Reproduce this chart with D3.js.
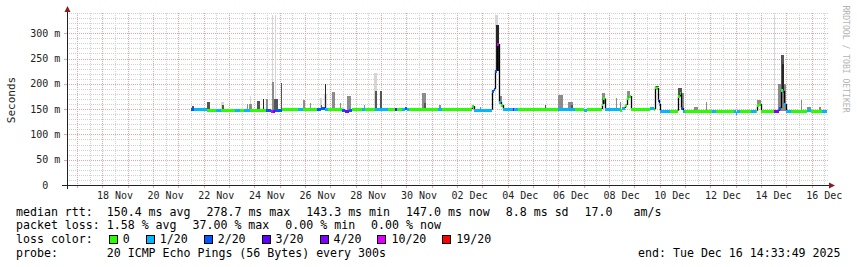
<!DOCTYPE html>
<html>
<head>
<meta charset="utf-8">
<script src="https://cdn.jsdelivr.net/npm/d3@7"></script>
<style>
  body { margin: 0; background: #fff; }
  svg text { font-family: "DejaVu Sans Mono", monospace; white-space: pre; }
</style>
</head>
<body>
<div id="chart"></div>
<script>
// time range of the graph (30 days)
const startTime = "2025-11-16T14:33:49Z";
const endTime = "2025-12-16T14:33:49Z";

// y axis
const yTickValues = [0, 50, 100, 150, 200, 250, 300];
const yTickLabels = ["0  ", "50 m", "100 m", "150 m", "200 m", "250 m", "300 m"];
const yMax = 340;

// x axis labels (every second day)
const xLabelDays = ["11-18", "11-20", "11-22", "11-24", "11-26", "11-28", "11-30",
  "12-02", "12-04", "12-06", "12-08", "12-10", "12-12", "12-14", "12-16"];

// loss colours
const lossColors = ["#26ff00", "#00b8ff", "#0059ff", "#5e00ff", "#7e00ff", "#dd00ff", "#ff0000"];
const lossLabels = ["0", "1/20", "2/20", "3/20", "4/20", "10/20", "19/20"];

// median rtt (ms), step values: each holds until the next time
const medianTimes = [
  "11-21 12", "11-21 15", "11-22 03", "11-22 12", "11-22 16", "11-23 06", "11-23 10", "11-23 14",
  "11-23 20", "11-24 11", "11-24 16", "11-24 18", "11-24 20", "11-25 02", "11-25 17", "11-25 22",
  "11-26 11", "11-26 15", "11-26 19", "11-26 22", "11-27 11", "11-27 14", "11-27 18", "11-27 21",
  "11-28 06", "11-28 09", "11-28 18", "11-29 07", "11-29 13", "11-29 15", "11-29 20", "11-29 23",
  "11-30 01", "11-30 03", "12-01 06", "12-01 10", "12-02 14", "12-02 16", "12-03 09", "12-03 11",
  "12-03 12", "12-03 14", "12-03 16", "12-03 18", "12-03 20", "12-04 05", "12-04 06", "12-04 10",
  "12-06 00", "12-06 16", "12-07 00", "12-07 03", "12-07 17", "12-07 18", "12-07 20", "12-08 10",
  "12-08 12", "12-08 15", "12-08 17", "12-08 19", "12-08 21", "12-09 15", "12-09 19", "12-09 20",
  "12-09 21", "12-09 22", "12-09 23", "12-10 00", "12-10 10", "12-10 17", "12-10 19", "12-10 20",
  "12-10 22", "12-11 00", "12-12 02", "12-12 05", "12-12 22", "12-13 00", "12-13 01", "12-13 04",
  "12-13 15", "12-13 19", "12-13 20", "12-13 22", "12-14 00", "12-14 12", "12-14 17", "12-14 19",
  "12-14 21", "12-14 22", "12-15 00", "12-15 04", "12-15 20", "12-15 23", "12-16 10"];
const medianValues = [
  150, 150, 148, 149, 148, 149, 148, 149,
  149, 148, 147, 147, 148, 150, 150, 150,
  150, 152, 150, 150, 148, 147, 148, 150,
  150, 150, 150, 150, 150, 150, 150, 152,
  150, 150, 150, 150, 156, 149, 186, 190,
  226, 278.7, 164, 158, 150, 150, 150, 150,
  150, 150, 149, 150, 160, 171, 150, 149,
  152, 158, 172, 176, 150, 153, 150, 193,
  192, 168, 160, 147, 147, 175, 181, 152,
  147, 147, 147, 147, 147, 143.3, 147, 147,
  147, 147, 158, 160, 147, 147, 152, 188,
  186, 160, 147, 147, 148, 147, 147];
const medianLoss = [
  2, 1, 0, 1, 0, 1, 0, 1,
  0, 2, 5, 4, 2, 0, 1, 0,
  2, 2, 1, 0, 2, 4, 2, 0,
  1, 0, 1, 0, 3, 0, 1, 2,
  1, 0, 1, 0, 0, 1, 2, 2,
  2, 5, 1, 0, 1, 4, 1, 0,
  1, 0, 1, 0, 0, 0, 1, 0,
  1, 0, 0, 0, 0, 1, 0, 0,
  0, 2, 1, 1, 0, 0, 0, 2,
  1, 0, 1, 0, 1, 1, 1, 0,
  1, 0, 0, 0, 0, 4, 2, 0,
  2, 1, 1, 0, 1, 0, 1];

// smoke (spread of the pings): start, end, top (ms), shade 0 light .. 3 dark
const smokeStart = [
  "11-21 13", "11-21 16", "11-22 03", "11-22 16", "11-22 17", "11-23 17", "11-23 19", "11-23 20",
  "11-24 03", "11-24 08", "11-24 11", "11-24 17", "11-24 17", "11-24 20", "11-24 19", "11-25 01",
  "11-25 22", "11-26 05", "11-26 14", "11-26 15", "11-26 18", "11-26 19", "11-27 02", "11-27 09",
  "11-27 11", "11-27 16", "11-28 08", "11-28 17", "11-28 18", "11-28 23", "11-30 15", "11-30 17",
  "12-01 07", "12-02 22", "12-03 12", "12-03 13", "12-03 16", "12-05 11", "12-06 00", "12-06 09",
  "12-06 12", "12-07 17", "12-08 07", "12-08 10", "12-08 17", "12-09 15", "12-09 20", "12-10 17",
  "12-10 20", "12-11 09", "12-11 20", "12-13 20", "12-14 12", "12-14 16", "12-14 19", "12-14 20",
  "12-15 14", "12-15 20", "12-16 07"];
const smokeEnd = [
  "11-21 15", "11-21 18", "11-22 06", "11-22 19", "11-22 19", "11-23 18", "11-23 22", "11-23 21",
  "11-24 05", "11-24 09", "11-24 13", "11-24 18", "11-24 19", "11-24 21", "11-24 22", "11-25 02",
  "11-26 00", "11-26 06", "11-26 16", "11-26 16", "11-26 21", "11-26 20", "11-27 04", "11-27 10",
  "11-27 13", "11-27 20", "11-28 09", "11-28 20", "11-28 20", "11-29 01", "11-30 19", "11-30 19",
  "12-01 09", "12-02 23", "12-03 15", "12-03 16", "12-03 19", "12-05 12", "12-06 04", "12-06 14",
  "12-06 14", "12-07 20", "12-08 08", "12-08 11", "12-08 20", "12-09 19", "12-09 23", "12-10 21",
  "12-10 23", "12-11 12", "12-11 21", "12-14 00", "12-14 13", "12-15 00", "12-14 22", "12-14 22",
  "12-15 15", "12-15 23", "12-16 09"];
const smokeTop = [
  156, 153, 165, 165, 158, 160, 160, 175,
  167, 170, 170, 336, 204, 336, 170, 201,
  168, 162, 172, 158, 180, 200, 184, 163,
  155, 175, 158, 221, 186, 186, 181, 162,
  158, 154, 336, 316, 175, 158, 178, 165,
  158, 181, 172, 165, 186, 155, 196, 192,
  181, 155, 165, 169, 336, 200, 257, 240,
  168, 155, 155];
const smokeShade = [
  2, 1, 2, 0, 2, 1, 1, 0,
  2, 3, 1, 0, 1, 0, 2, 2,
  1, 1, 0, 2, 0, 3, 1, 1,
  0, 1, 1, 0, 2, 2, 1, 2,
  1, 1, 0, 3, 1, 2, 1, 1,
  2, 1, 1, 1, 1, 2, 2, 2,
  1, 1, 1, 1, 0, 1, 2, 3,
  1, 1, 1];
const shadeColors = ["#d6d6d6", "#8c8c8c", "#555555", "#262626"];

// legend numbers
const rttStats = [150.4, 278.7, 143.3, 147.0, 8.8, 17.0];
const lossStats = [1.58, 37.00, 0.00, 0.00];
const probeText = "20 ICMP Echo Pings (56 Bytes) every 300s";
const endText = "end: Tue Dec 16 14:33:49 2025";

// ---------------------------------------------------------------
const width = 857, height = 267;
const plot = { left: 67, right: 827, top: 13, bottom: 185 };

const parse = d3.utcParse("%Y-%m-%d %H");
const toDate = (s) => parse("2025-" + s);

const svg = d3.select("#chart").append("svg")
  .attr("width", width).attr("height", height)
  .attr("xml:space", "preserve");

const x = d3.scaleUtc()
  .domain([new Date(startTime), new Date(endTime)])
  .range([plot.left, plot.right]);
const y = d3.scaleLinear().domain([0, yMax]).range([plot.bottom, plot.top]);
const px = (v) => Math.round(v) + 0.5;

// grid
const minorCol = "#d2d2d2", majorCol = "#eba3a3";
const grid = svg.append("g");
d3.range(10, yMax + 1, 10).forEach((v) => {
  const major = v % 50 === 0;
  grid.append("line")
    .attr("x1", plot.left).attr("x2", plot.right + 2)
    .attr("y1", px(y(v))).attr("y2", px(y(v)))
    .attr("stroke", major ? majorCol : minorCol)
    .attr("stroke-dasharray", "1,1");
  if (major) {
    grid.append("line").attr("x1", plot.left - 3).attr("x2", plot.left)
      .attr("y1", px(y(v))).attr("y2", px(y(v))).attr("stroke", majorCol);
  }
});
x.ticks(d3.utcHour.every(12)).forEach((d) => {
  const major = d.getUTCHours() === 0;
  grid.append("line")
    .attr("x1", px(x(d))).attr("x2", px(x(d)))
    .attr("y1", plot.top).attr("y2", plot.bottom)
    .attr("stroke", major ? majorCol : minorCol)
    .attr("stroke-dasharray", "1,1");
  if (major) {
    grid.append("line").attr("x1", px(x(d))).attr("x2", px(x(d)))
      .attr("y1", plot.bottom).attr("y2", plot.bottom + 3).attr("stroke", majorCol);
  }
});

// median lookup
const medDates = medianTimes.map(toDate);
const bisect = d3.bisector((d) => d).right;
const medianAt = (d) => medianValues[Math.max(0, bisect(medDates, d) - 1)];

// smoke
const smoke = smokeStart.map((s, i) => ({
  t0: toDate(s), t1: toDate(smokeEnd[i]), top: smokeTop[i], shade: smokeShade[i]
})).sort((a, b) => a.shade - b.shade);

svg.append("g").selectAll("rect").data(smoke).join("rect")
  .attr("x", (d) => Math.round(x(d.t0)))
  .attr("width", (d) => Math.max(1, Math.round(x(d.t1)) - Math.round(x(d.t0))))
  .attr("y", (d) => Math.round(y(d.top)))
  .attr("height", (d) => Math.max(1, Math.round(y(medianAt(d.t0))) - Math.round(y(d.top))))
  .attr("fill", (d) => shadeColors[d.shade]);

// median line
const endDate = new Date(endTime);
const med = svg.append("g");
medDates.forEach((d, i) => {
  const x0 = Math.round(x(d));
  const x1 = Math.round(x(i < medDates.length - 1 ? medDates[i + 1] : endDate));
  const yv = y(medianValues[i]);
  if (i > 0) {
    const yp = y(medianValues[i - 1]);
    if (Math.abs(yp - yv) > 2) {
      med.append("line").attr("x1", x0 + 0.5).attr("x2", x0 + 0.5)
        .attr("y1", yp).attr("y2", yv).attr("stroke", "#000").attr("stroke-width", 1.3);
    }
  }
  med.append("rect")
    .attr("x", x0).attr("width", Math.max(1, x1 - x0))
    .attr("y", Math.round(yv) - 1).attr("height", 3)
    .attr("fill", lossColors[medianLoss[i]]);
});

// axes
const axisCol = "#222";
const arrowCol = "#8f1a1a";
svg.append("line").attr("x1", plot.left - 5).attr("x2", plot.right + 3)
  .attr("y1", plot.bottom + 0.5).attr("y2", plot.bottom + 0.5).attr("stroke", axisCol);
svg.append("line").attr("x1", plot.left + 0.5).attr("x2", plot.left + 0.5)
  .attr("y1", plot.bottom + 4).attr("y2", plot.top - 2).attr("stroke", axisCol);
svg.append("path")
  .attr("d", `M${plot.right + 2},${plot.bottom - 2.5}L${plot.right + 8},${plot.bottom + 0.5}L${plot.right + 2},${plot.bottom + 3.5}Z`)
  .attr("fill", arrowCol);
svg.append("path")
  .attr("d", `M${plot.left - 2.5},${plot.top - 1}L${plot.left + 0.5},${plot.top - 7}L${plot.left + 3.5},${plot.top - 1}Z`)
  .attr("fill", arrowCol);

// y labels
yTickValues.forEach((v, i) => {
  const s = yTickLabels[i];
  svg.append("text")
    .attr("x", 60.3 - s.length * 6.02).attr("y", y(v) + 3.6)
    .attr("font-size", "10px").attr("fill", axisCol)
    .text(s);
});

// x labels at noon of each labelled day
const dayFmt = d3.utcFormat("%d %b");
xLabelDays.forEach((s) => {
  const d = toDate(s + " 12");
  svg.append("text")
    .attr("x", x(d)).attr("y", 198.5)
    .attr("text-anchor", "middle")
    .attr("font-size", "10px").attr("fill", axisCol)
    .text(dayFmt(d));
});

// axis title and watermark
svg.append("text")
  .attr("transform", "translate(15,100) rotate(-90)")
  .attr("text-anchor", "middle").attr("font-size", "11px").attr("fill", axisCol)
  .text("Seconds");
svg.append("text")
  .attr("transform", "translate(843,59) rotate(90)")
  .attr("text-anchor", "middle").attr("font-size", "8.1px").attr("fill", "#b4b4b4")
  .text("RRDTOOL / TOBI OETIKER");

// legend
const CW = 6.98, GAP = 16, LX = 16;
const rowY = (i) => 215.5 + i * 13.75;
const f1 = d3.format(".1f"), f2 = d3.format(".2f");
const legend = svg.append("g").attr("font-size", "11.6px").attr("fill", "#000");

function row(items, yy) {
  let cx = LX;
  items.forEach((s) => {
    legend.append("text").attr("x", cx).attr("y", yy).text(s);
    cx += s.length * CW + GAP;
  });
}

row([
  "median rtt:  " + f1(rttStats[0]) + " ms avg",
  f1(rttStats[1]) + " ms max",
  f1(rttStats[2]) + " ms min",
  f1(rttStats[3]) + " ms now",
  f1(rttStats[4]) + " ms sd",
  f1(rttStats[5]) + "   am/s"
], rowY(0));

row([
  "packet loss: " + f2(lossStats[0]) + " % avg",
  f2(lossStats[1]) + " % max",
  f2(lossStats[2]) + " % min",
  f2(lossStats[3]) + " % now"
], rowY(1));

// loss colour row
legend.append("text").attr("x", LX).attr("y", rowY(2)).text("loss color:");
let lx = LX + 11 * CW + GAP;
lossLabels.forEach((lab, i) => {
  legend.append("rect")
    .attr("x", Math.round(lx) + 0.5).attr("y", Math.round(rowY(2)) - 8 + 0.5)
    .attr("width", 8).attr("height", 8)
    .attr("fill", lossColors[i]).attr("stroke", "#000");
  legend.append("text").attr("x", lx + 14).attr("y", rowY(2)).text(lab);
  lx += 14 + lab.length * CW + GAP;
});

legend.append("text").attr("x", LX).attr("y", rowY(3)).text("probe:       " + probeText);
legend.append("text").attr("x", 840.5).attr("y", rowY(3))
  .attr("text-anchor", "end").text(endText);
</script>
</body>
</html>
